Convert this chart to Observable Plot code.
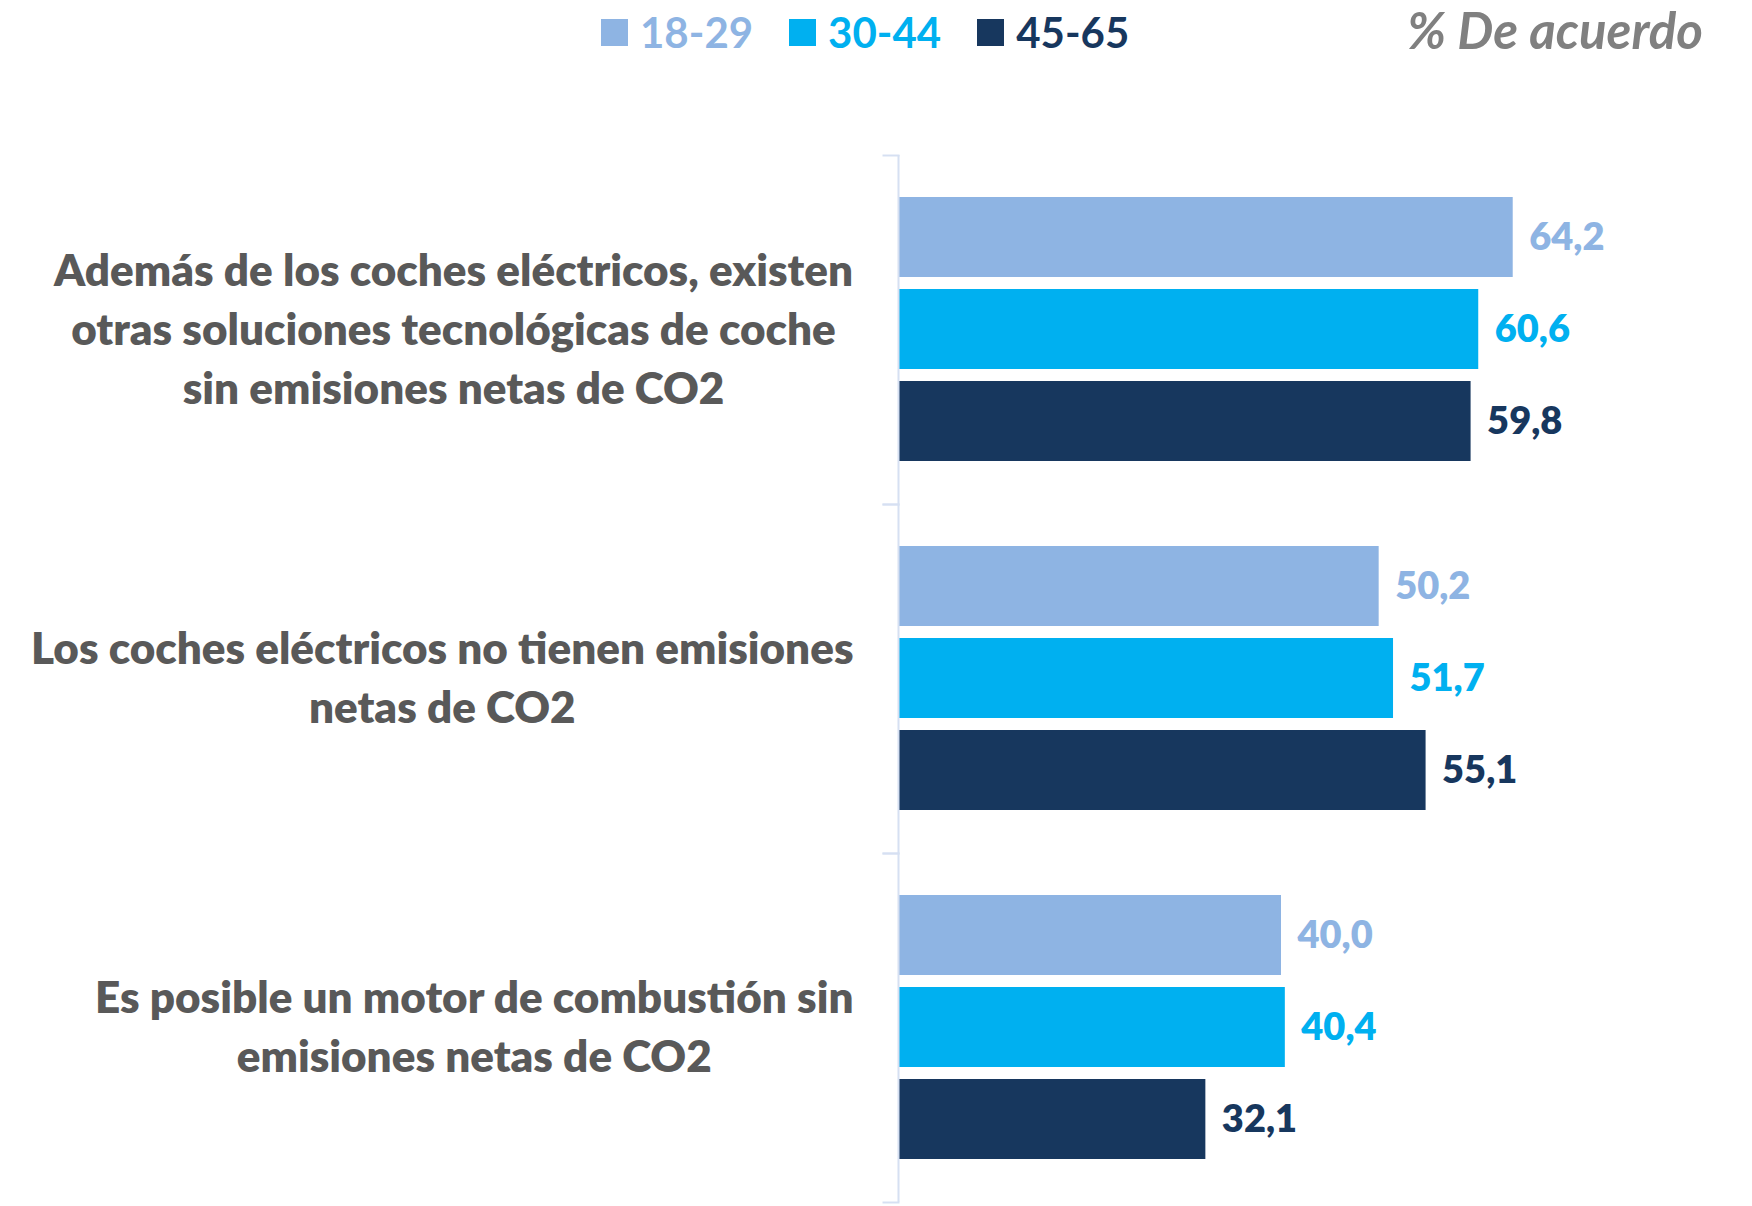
<!DOCTYPE html>
<html><head><meta charset="utf-8">
<script src="https://cdn.jsdelivr.net/npm/d3@7"></script>
<script src="https://cdn.jsdelivr.net/npm/@observablehq/plot@0.6"></script>
<style>
body{margin:0;background:#fff;width:1752px;height:1206px;overflow:hidden;font-family:Lato,"Open Sans",sans-serif}
#header{position:relative;height:70px;width:1752px}
#legend{position:absolute;left:601px;top:-3px;height:70px;display:flex;align-items:center;font-weight:700;font-size:42px}
.item{display:flex;align-items:center;margin-right:36px}
.sw{width:27px;height:27px;margin-right:12px}
#unit{position:absolute;right:49px;top:0;height:60px;line-height:60px;font-style:italic;font-weight:700;font-size:51px;color:#808080}
</style></head><body>
<div id="header"><div id="legend"></div><div id="unit"></div></div>
<div id="chart"></div>
<script>
const questions = [
  "Además de los coches eléctricos, existen\notras soluciones tecnológicas de coche\nsin emisiones netas de CO2",
  "Los coches eléctricos no tienen emisiones\nnetas de CO2",
  "Es posible un motor de combustión sin\nemisiones netas de CO2"
];
const ageGroups = ["18-29", "30-44", "45-65"];
const values1829 = [64.2, 50.2, 40.0];
const values3044 = [60.6, 51.7, 40.4];
const values4565 = [59.8, 55.1, 32.1];
const colors = ["#8EB4E3", "#00B0F0", "#17375E"];
const unitLabel = "% De acuerdo";

const series = [values1829, values3044, values4565];
const data = questions.flatMap((q, i) => ageGroups.map((g, j) => ({question: q, group: g, value: series[j][i]})));
const fmt = v => v.toFixed(1).replace(".", ",");

const legend = d3.select("#legend");
ageGroups.forEach((g, j) => {
  const it = legend.append("div").attr("class", "item").style("color", colors[j]);
  it.append("div").attr("class", "sw").style("background", colors[j]);
  it.append("span").text(g);
});
d3.select("#unit").text(unitLabel);

const W = 1752, ML = 898, MR = 88;
const axisColor = "#D6E0F2";
const plot = Plot.plot({
  width: W, height: 1136,
  marginTop: 84, marginBottom: 4, marginLeft: ML, marginRight: MR,
  x: {domain: [0, 80], axis: null},
  y: {domain: ageGroups, axis: null, paddingInner: 0.126, paddingOuter: 0.445},
  fy: {domain: questions, axis: null, padding: 0},
  color: {domain: ageGroups, range: colors},
  style: {fontFamily: "Lato, 'Open Sans', sans-serif", background: "#fff"},
  marks: [
    Plot.barX(data, {fy: "question", y: "group", x: "value", fill: "group"}),
    Plot.text(data, {fy: "question", y: "group", x: "value", text: d => fmt(d.value), fill: "group",
      textAnchor: "start", dx: 16, fontSize: 38, fontWeight: 800}),
    Plot.ruleX([0], {stroke: axisColor, strokeWidth: 2}),
    Plot.frame({anchor: "top", stroke: axisColor, strokeWidth: 2, insetLeft: -15, insetRight: W - ML - MR}),
    Plot.frame({anchor: "bottom", stroke: axisColor, strokeWidth: 2, insetLeft: -15, insetRight: W - ML - MR}),
    Plot.text(questions, {fy: d => d, text: d => d, frameAnchor: "left", textAnchor: "end", dx: -45, dy: -4,
      fontSize: 44, fontWeight: 800, fill: "#595959", lineHeight: 1.34})
  ]
});
document.getElementById("chart").appendChild(plot);
// centre each line of a question label within its own block (block stays right-aligned)
Array.from(plot.querySelectorAll("text")).forEach(t => {
  const tspans = t.querySelectorAll("tspan");
  if (tspans.length < 2) return;
  const w = t.getBBox().width;
  t.setAttribute("text-anchor", "middle");
  tspans.forEach(s => s.setAttribute("x", -w / 2));
});
</script>
</body></html>
